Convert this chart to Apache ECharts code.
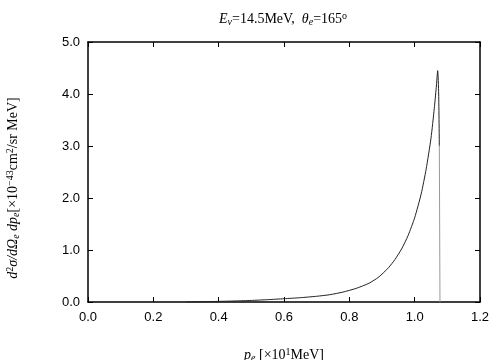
<!DOCTYPE html>
<html>
<head>
<meta charset="utf-8">
<script src="https://cdn.jsdelivr.net/npm/echarts@6/dist/echarts.min.js"></script>
<style>
  html, body { margin: 0; padding: 0; background: #fff; }
  #chart { width: 504px; height: 360px; }
</style>
</head>
<body>
<div id="chart"></div>
<script>
// momentum p_e [x10 MeV] and cross section [x10^-43 cm^2/sr MeV]
const momentum = [0.30, 0.35, 0.40, 0.45, 0.50, 0.55, 0.60, 0.65, 0.70, 0.74, 0.78, 0.82,
  0.86, 0.89, 0.92, 0.94, 0.96, 0.98, 1.00, 1.02, 1.035, 1.05, 1.06, 1.066,
  1.0705, 1.0735, 1.0755]
const crossSection = [0.0, 0.005, 0.012, 0.02, 0.03, 0.045, 0.063, 0.083, 0.11, 0.14, 0.19, 0.26,
  0.36, 0.48, 0.66, 0.82, 1.02, 1.28, 1.62, 2.08, 2.55, 3.15, 3.72, 4.12,
  4.45, 4.0, 3.0]
// kinematic cutoff drop
const cutoffX = [1.0755, 1.0775]
const cutoffY = [3.0, 0.0]

const xTicks = [0.0, 0.2, 0.4, 0.6, 0.8, 1.0, 1.2]
const yTicks = [0.0, 1.0, 2.0, 3.0, 4.0, 5.0]

const serif = '"Liberation Serif", "DejaVu Serif", serif'
const sans = '"Liberation Sans", Arial, sans-serif'

const chart = echarts.init(document.getElementById('chart'))

function richSet(size) {
  const small = Math.round(size * 0.68)
  return {
    n: { fontFamily: serif, fontSize: size, fontWeight: 'normal', color: '#000' },
    i: { fontFamily: serif, fontSize: size, fontWeight: 'normal', fontStyle: 'italic', color: '#000' },
    sub: { fontFamily: serif, fontSize: small, fontWeight: 'normal', fontStyle: 'italic', color: '#000', padding: [6, 0, 0, 0] },
    sup: { fontFamily: serif, fontSize: small, fontWeight: 'normal', color: '#000', padding: [0, 0, 7, 0] }
  }
}

function frameAxis() {
  return {
    axisLine: { show: true, onZero: false, lineStyle: { color: '#000', width: 1.5 } },
    axisTick: { show: true, inside: true, length: 5, lineStyle: { color: '#000', width: 1 } },
    splitLine: { show: false }
  }
}

chart.setOption({
  animation: false,
  grid: { left: 88, right: 24, top: 42, bottom: 58, outerBoundsMode: 'none' },
  title: {
    text: '{i|E}{sub|ν}{n|=14.5MeV,  }{i|θ}{sub|e}{n|=165}{sup|o}',
    left: 214,
    top: 6,
    textStyle: { fontWeight: 'normal', rich: richSet(14) }
  },
  xAxis: [
    Object.assign({
      type: 'value', min: 0, max: 1.2, interval: 0.2,
      axisLabel: { fontFamily: sans, fontSize: 13, color: '#000', margin: 9,
        formatter: v => v.toFixed(1) },
      name: '{i|p}{sub|e}{n| [×10}{sup|1}{n|MeV]}',
      nameLocation: 'middle',
      nameGap: 45,
      nameTextStyle: { rich: richSet(14) }
    }, frameAxis()),
    Object.assign({
      type: 'value', position: 'top', min: 0, max: 1.2, interval: 0.2,
      axisLabel: { show: false }
    }, frameAxis())
  ],
  yAxis: [
    Object.assign({
      type: 'value', min: 0, max: 5, interval: 1,
      axisLabel: { fontFamily: sans, fontSize: 13, color: '#000', margin: 8,
        formatter: v => v.toFixed(1) },
      name: '{i|d}{sup|2}{i|σ/dΩ}{sub|e}{i| dp}{sub|e}{n|[×10}{sup|−43}{n|cm}{sup|2}{n|/sr MeV]}',
      nameLocation: 'middle',
      nameRotate: 90,
      nameGap: 66,
      nameTextStyle: { rich: richSet(14), padding: [0, 32, 0, 0] }
    }, frameAxis()),
    Object.assign({
      type: 'value', position: 'right', min: 0, max: 5, interval: 1,
      axisLabel: { show: false }
    }, frameAxis())
  ],
  series: [
    {
      type: 'line',
      data: momentum.map((x, k) => [x, crossSection[k]]),
      showSymbol: false,
      smooth: 0.2,
      lineStyle: { color: '#222', width: 1 }
    },
    {
      type: 'line',
      data: cutoffX.map((x, k) => [x, cutoffY[k]]),
      showSymbol: false,
      lineStyle: { color: '#999', width: 1 }
    }
  ]
})
</script>
</body>
</html>
